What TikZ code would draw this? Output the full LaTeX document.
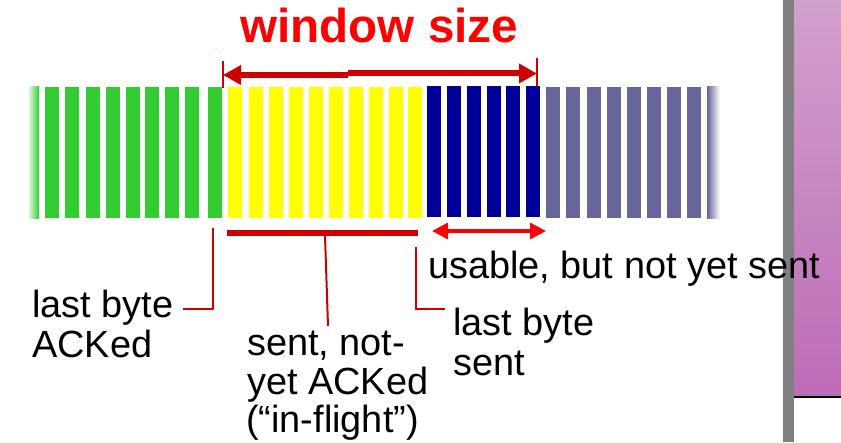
\documentclass[tikz,border=0pt]{standalone}
\usepackage{fontspec}
\setmainfont{Liberation Sans}
\usetikzlibrary{arrows.meta}

\definecolor{ackgreen}{HTML}{33CC33}
\definecolor{flightyellow}{HTML}{FFFF00}
\definecolor{usablenavy}{HTML}{000099}
\definecolor{futureslate}{HTML}{666699}
\definecolor{darkred}{HTML}{CC0000}
\definecolor{brightred}{HTML}{FF0000}
\definecolor{railgray}{HTML}{808080}
\definecolor{mauvetop}{RGB}{210,160,205}
\definecolor{mauvebot}{RGB}{188,108,182}

\begin{document}
\begin{tikzpicture}[x=0.75pt,y=-0.75pt,
  lbl/.style={inner sep=0pt, anchor=base west, font=\fontsize{28.4}{33}\selectfont, text=black},
  headline/.style={inner sep=0pt, anchor=base west, font=\fontsize{35.7}{40}\selectfont\bfseries, text=brightred},
  bracket/.style={darkred, line width=1.5pt},
  bigtip/.style={-{Triangle[length=13.5pt,width=14pt]}},
  smalltip/.style={{Triangle[length=12pt,width=12pt]}-{Triangle[length=12pt,width=12pt]}}
]
\useasboundingbox (0,0) rectangle (841,442);

% side rail and slide panel at the right edge
\shade[top color=mauvetop, bottom color=mauvebot] (794,0) rectangle (841,397);
\draw[black, line width=1.5pt] (794,397) -- (841,397);
\fill[railgray] (783,0) rectangle (794,442);

% byte stream: acknowledged, in flight, usable, not yet usable
\shade[left color=white, right color=ackgreen] (27,87) rectangle (39,218);
\foreach \x in {45,65,86,106,126,145,165,185,208}
  \fill[ackgreen] (\x,87) rectangle ++(14,131);
\foreach \x in {228,249,269,289,309,329,349,369,389,408}
  \fill[flightyellow] (\x,87) rectangle ++(14,131);
\foreach \x in {427,447,467,487,506,526}
  \fill[usablenavy] (\x,86) rectangle ++(14,131);
\foreach \x in {546,566,587,607,627,647,667,687}
  \fill[futureslate] (\x,87) rectangle ++(14,131);
\shade[left color=futureslate, right color=white] (707,87) rectangle (720,218);

% window size span
\node[headline] (wtitle) at (240,43) {window size};
\coordinate (wl) at (223,75);
\coordinate (wm) at (348,75);
\coordinate (wm2) at (348,73.5);
\coordinate (wr) at (537,73.5);
\draw[darkred, line width=1.5pt] (223,61) -- (223,88);
\draw[darkred, line width=1.5pt] (537,58) -- (537,86);
\draw[darkred, line width=4.5pt, bigtip] (wm) -- (wl);
\draw[darkred, line width=4.5pt, bigtip] (wm2) -- (wr);

% in-flight underline and its pointer
\coordinate (fl) at (227,232.5);
\coordinate (fr) at (418,232.5);
\draw[darkred, line width=4.5pt] (fl) -- (fr);
\coordinate (fmid) at (325,236);
\coordinate (fend) at (328,326);
\draw[bracket] (fmid) -- (fend);

% usable span
\coordinate (ul) at (432,231);
\coordinate (ur) at (546,231);
\draw[brightred, line width=2.5pt, smalltip] (ul) -- (ur);

% labels
\node[lbl] (usable) at (428,278) {usable, but not yet sent};

\node[lbl] (ackA) at (32,317) {last byte};
\node[lbl] (ackB) at (32,357) {ACKed};
\coordinate (ackTop) at (213,228);
\coordinate (ackFoot) at (183,309);
\draw[bracket] (ackTop) |- (ackFoot);

\node[lbl] (sentA) at (453,335) {last byte};
\node[lbl] (sentB) at (453,375) {sent};
\coordinate (sentTop) at (416,247);
\coordinate (sentFoot) at (445,309);
\draw[bracket] (sentTop) |- (sentFoot);

\node[lbl] (flA) at (247,355) {sent, not-};
\node[lbl] (flB) at (247,394) {yet ACKed};
\node[lbl] (flC) at (246,432) {(“in-flight”)};
\end{tikzpicture}
\end{document}
